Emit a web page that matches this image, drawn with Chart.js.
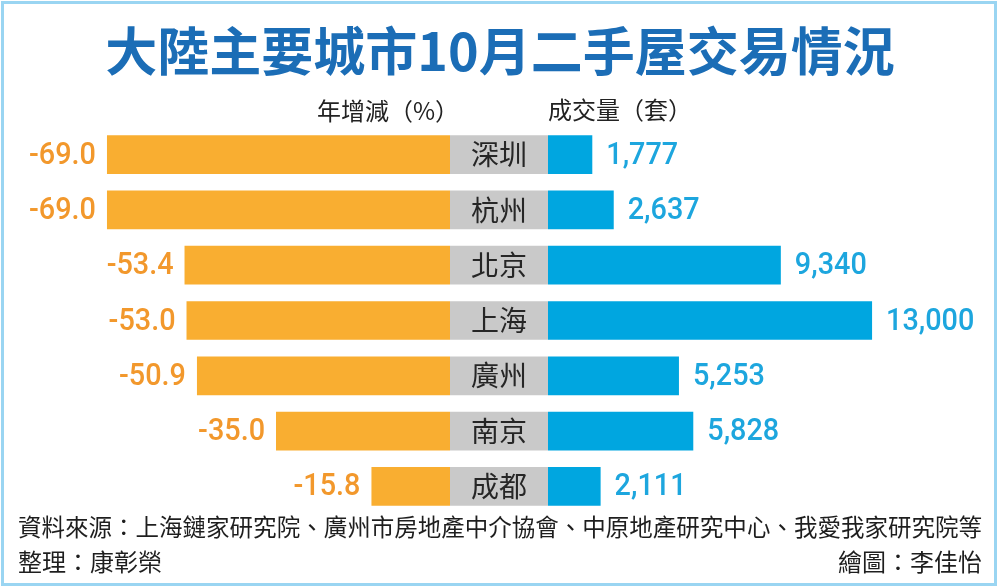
<!DOCTYPE html>
<html>
<head>
<meta charset="utf-8">
<style>
  html, body { margin: 0; padding: 0; background: #fff; }
  #wrap { width: 1000px; height: 588px; }
</style>
<script src="https://cdn.jsdelivr.net/npm/chart.js@4/dist/chart.umd.min.js"></script>
</head>
<body>
<div id="wrap"><canvas id="tradeChart" width="1000" height="588"></canvas></div>
<script>
/* data */
const cities = ['深圳', '杭州', '北京', '上海', '廣州', '南京', '成都'];
const yoyChange = [-69.0, -69.0, -53.4, -53.0, -50.9, -35.0, -15.8];   // 年增減(%)
const deals = [1777, 2637, 9340, 13000, 5253, 5828, 2111];            // 成交量(套)

const titleText = '大陸主要城市10月二手屋交易情況';
const leftHead = '年增減（%）';
const rightHead = '成交量（套）';
const sourceText = '資料來源：上海鏈家研究院、廣州市房地產中介協會、中原地產研究中心、我愛我家研究院等';
const editorText = '整理：康彰榮';
const artistText = '繪圖：李佳怡';

const ORANGE = '#f9ae31';
const ORANGE_TXT = '#f2982c';
const BLUE = '#00a6e0';
const BLUE_TXT = '#1da6de';
const GREY = '#c9c9c9';
const CJK = '"Noto Sans CJK TC", "Noto Sans CJK SC", sans-serif';
const NUM = 'Roboto, "Liberation Sans", sans-serif';

// frame + background
const framePlugin = {
    id: 'frame',
    beforeDraw(chart) {
        const c = chart.ctx;
        c.save();
        c.fillStyle = '#fff';
        c.fillRect(0, 0, chart.width, chart.height);
        c.strokeStyle = '#9ad5f2';
        c.lineWidth = 3;
        c.strokeRect(2.5, 2.5, 993, 582);
        c.restore();
    }
};

// text with a horizontal squeeze (the original uses condensed faces)
function squeezed(c, txt, x, y, sx, align) {
    c.save();
    c.translate(x, y);
    c.scale(sx, 1);
    c.textAlign = align;
    c.fillText(txt, 0, 0);
    c.restore();
}

// squeeze so the text fits a given width
function fitText(c, txt, x, y, maxW, align) {
    const s = Math.min(1, maxW / c.measureText(txt).width);
    squeezed(c, txt, x, y, s, align);
}

const labelPlugin = {
    id: 'labels',
    afterDatasetsDraw(chart) {
        const c = chart.ctx;
        c.save();
        c.textBaseline = 'middle';

        // title
        c.fillStyle = '#1b6db6';
        c.font = 'bold 52px ' + CJK;
        c.textAlign = 'center';
        c.fillText(titleText, 500, 51);

        // column heads
        c.fillStyle = '#222';
        c.font = '24px ' + CJK;
        c.textAlign = 'right';
        c.fillText(leftHead, 459, 111);
        c.textAlign = 'left';
        c.fillText(rightHead, 548, 110);

        // orange values
        const mL = chart.getDatasetMeta(0);
        c.font = '500 32px ' + NUM;
        c.fillStyle = ORANGE_TXT;
        mL.data.forEach((bar, i) => {
            squeezed(c, yoyChange[i].toFixed(1), bar.x - 11, bar.y + 1, 0.9, 'right');
        });

        // city names in the grey boxes
        const mC = chart.getDatasetMeta(1);
        c.font = '28px ' + CJK;
        c.fillStyle = '#262626';
        c.textAlign = 'center';
        mC.data.forEach((bar, i) => {
            c.fillText(cities[i], (bar.x + bar.base) / 2, bar.y);
        });

        // blue values
        const mR = chart.getDatasetMeta(2);
        c.font = '500 32px ' + NUM;
        c.fillStyle = BLUE_TXT;
        mR.data.forEach((bar, i) => {
            squeezed(c, deals[i].toLocaleString('en-US'), bar.x + 14, bar.y + 1, 0.9, 'left');
        });

        // footer
        c.fillStyle = '#1e1e1e';
        c.font = '24px ' + CJK;
        fitText(c, sourceText, 18, 527, 964, 'left');
        fitText(c, editorText, 18, 562, 200, 'left');
        fitText(c, artistText, 982, 562, 200, 'right');
        c.restore();
    }
};

const barCommon = {
    grouped: false,
    barPercentage: 1,
    categoryPercentage: 0.7,
    borderWidth: 0
};

new Chart(document.getElementById('tradeChart'), {
    type: 'bar',
    data: {
        labels: cities,
        datasets: [
            Object.assign({ label: '年增減', data: yoyChange, xAxisID: 'xL', backgroundColor: ORANGE }, barCommon),
            Object.assign({ label: '城市', data: cities.map(() => [0, 1]), xAxisID: 'xC', backgroundColor: GREY }, barCommon),
            Object.assign({ label: '成交量', data: deals, xAxisID: 'xR', backgroundColor: BLUE }, barCommon)
        ]
    },
    options: {
        indexAxis: 'y',
        responsive: false,
        animation: false,
        events: [],
        layout: { padding: { left: 102, right: 103, top: 127, bottom: 74 } },
        plugins: { legend: { display: false }, tooltip: { enabled: false } },
        scales: {
            y: { type: 'category', display: false, grid: { display: false } },
            // three x axes laid side by side: left bars | city box | right bars
            xL: { type: 'linear', position: 'bottom', stack: 'row', stackWeight: 348, weight: 0, min: -70, max: 0, display: false },
            xC: { type: 'linear', position: 'bottom', stack: 'row', stackWeight: 98, weight: 1, min: 0, max: 1, display: false },
            xR: { type: 'linear', position: 'bottom', stack: 'row', stackWeight: 349, weight: 2, min: 0, max: 14000, display: false }
        }
    },
    plugins: [framePlugin, labelPlugin]
});
</script>
</body>
</html>
